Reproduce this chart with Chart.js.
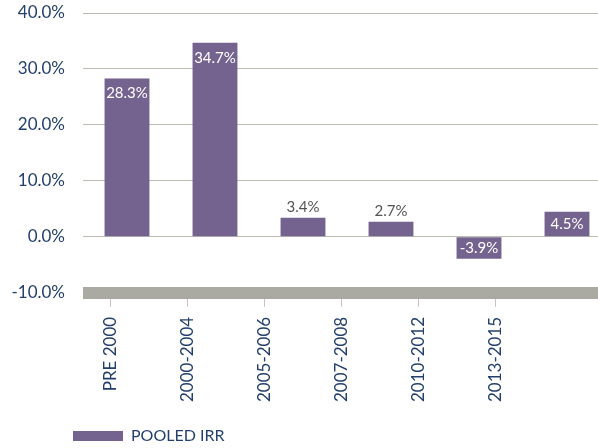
<!DOCTYPE html>
<html>
<head>
<meta charset="utf-8">
<title>Pooled IRR</title>
<script src="https://cdn.jsdelivr.net/npm/chart.js@4.4.1/dist/chart.umd.min.js"></script>
<style>
  html, body { margin: 0; padding: 0; background: #fff; overflow: hidden; }
  #wrap { width: 598px; height: 448px; overflow: hidden; }
  #wrap canvas { display: block; }
</style>
</head>
<body>
<div id="wrap"><canvas id="irr" width="611" height="448"></canvas></div>
<script>
(function () {
  "use strict";

  // Data
  const periods = ['PRE 2000', '2000-2004', '2005-2006', '2007-2008', '2010-2012', '2013-2015'];
  const pooledIrr = [28.3, 34.7, 3.4, 2.7, -3.9, 4.5];
  const yTicks = [-10, 0, 10, 20, 30, 40];

  // Colors
  const purple = '#74638f';
  const navy = '#243f6c';
  const gridGray = '#bebcb5';
  const bandGray = '#abaaa2';

  // value labels on / above the bars
  const barLabels = {
    id: 'barLabels',
    afterDatasetsDraw(chart) {
      const ctx = chart.ctx;
      const meta = chart.getDatasetMeta(0);
      ctx.save();
      ctx.font = '15px Lato';
      ctx.textAlign = 'center';
      ctx.textBaseline = 'alphabetic';
      meta.data.forEach(function (bar, i) {
        const txt = pooledIrr[i].toFixed(1) + '%';
        const h = Math.abs(bar.base - bar.y);
        let y;
        if (h > 40) {
          ctx.fillStyle = '#fff';
          y = bar.y + 20;
        } else if (h >= 20.5) {
          ctx.fillStyle = '#fff';
          y = (bar.y + bar.base) / 2 + 5;
        } else {
          ctx.fillStyle = '#555';
          y = bar.y - 6;
        }
        ctx.fillText(txt, bar.x, y);
      });
      ctx.restore();
    }
  };

  // legend sits under the plot, not at the canvas edge
  const legendShift = {
    id: 'legendShift',
    afterLayout(chart) {
      chart.legend.left += 63;
      chart.legend.top += 6;
      chart.legend.bottom += 6;
    }
  };

  const ctx = document.getElementById('irr').getContext('2d');

  new Chart(ctx, {
    type: 'bar',
    data: {
      labels: periods,
      datasets: [{
        label: 'POOLED IRR',
        data: pooledIrr,
        backgroundColor: purple,
        borderWidth: 0,
        barPercentage: 0.51,
        categoryPercentage: 1
      }]
    },
    options: {
      responsive: false,
      animation: false,
      layout: { padding: { top: 3, right: 0, bottom: 0, left: 0 } },
      scales: {
        x: {
          display: false
        },
        x2: {
          type: 'linear',
          position: 'bottom',
          offset: false,
          min: -0.35,
          max: 6.49,
          afterBuildTicks: function (scale) {
            scale.ticks = periods.map(function (p, i) { return { value: i }; });
          },
          grid: { offset: false, drawOnChartArea: false, tickLength: 14, color: '#c6c4be', z: -2 },
          border: { display: false },
          ticks: {
            callback: function (v) { return periods[v]; },
            minRotation: 90,
            maxRotation: 90,
            autoSkip: false,
            padding: 10,
            color: navy,
            font: { family: 'Lato', size: 17 }
          }
        },
        y: {
          min: -10,
          max: 40,
          afterBuildTicks: function (scale) {
            scale.ticks = yTicks.map(function (v) { return { value: v }; });
          },
          afterFit: function (scale) {
            scale.width = 83;
            scale.paddingTop = 13;
            scale.paddingBottom = 10;
          },
          grid: {
            drawTicks: false,
            color: function (c) { return c.tick.value === -10 ? bandGray : gridGray; },
            lineWidth: function (c) { return c.tick.value === -10 ? 12 : 1; }
          },
          border: { display: false },
          ticks: {
            padding: 18,
            color: navy,
            font: { family: 'Lato', size: 17 },
            callback: function (v) { return v.toFixed(1) + '%'; }
          }
        }
      },
      plugins: {
        legend: {
          position: 'bottom',
          align: 'start',
          labels: {
            boxWidth: 50,
            boxHeight: 10,
            padding: 10,
            color: navy,
            font: { family: 'Lato', size: 16 }
          }
        },
        tooltip: { enabled: false }
      }
    },
    plugins: [barLabels, legendShift]
  });
})();
</script>
</body>
</html>
